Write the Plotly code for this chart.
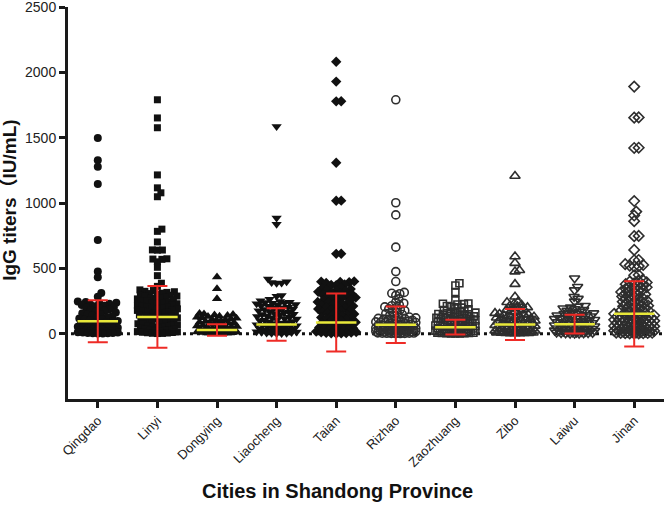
import math
import plotly.graph_objects as go

cities = ["Qingdao", "Linyi", "Dongying", "Liaocheng", "Taian",
          "Rizhao", "Zaozhuang", "Zibo", "Laiwu", "Jinan"]

qingdao = [1497, 1328, 1278, 1146, 717, 475, 432, 311, 283,
           246, 242, 237, 233, 228, 224, 219, 214, 209, 203, 198, 192, 186, 181, 175,
           168, 162, 157, 151, 144, 139, 133, 127, 122, 116, 111, 106, 101, 97, 93, 89,
           85, 81, 78, 74, 71, 67, 64, 61, 58, 55, 52, 49, 46, 43, 41, 38, 35, 33, 30,
           28, 25, 23, 21, 19, 17, 15, 13, 11, 9, 8, 6, 5, 4, 3, 2, 1]
linyi = [1790, 1651, 1576, 1215, 1116, 1078, 1048, 800, 783, 702, 641, 640, 639,
         573, 571, 569, 550, 508, 444, 386, 362,
         335, 330, 324, 321, 316, 310, 307, 303, 296, 294, 288, 285, 279, 273, 271,
         266, 260, 258, 251, 249, 244, 238, 235, 229, 226, 222, 216, 213, 207, 205,
         199, 194, 190, 187, 180, 178, 172, 167, 165, 158, 156, 150, 146, 143, 137,
         134, 128, 124, 121, 115, 112, 106, 103, 97, 95, 89, 85, 82, 76, 74, 68, 64,
         61, 57, 52, 50, 45, 42, 38, 35, 31, 29, 25, 22, 19, 16, 14, 11, 9, 7, 5, 3, 2, 1]
dongying = [434, 343, 268, 155, 151, 147, 142, 139, 134, 131, 126, 121, 118, 113,
            108, 105, 101, 96, 93, 88, 84, 80, 77, 72, 69, 65, 62, 58, 55, 51, 48, 45,
            42, 38, 35, 33, 29, 27, 24, 21, 19, 16, 14, 12, 10, 8, 7, 5, 4, 3, 2, 1]
liaocheng = [1586, 886, 838, 419, 397, 388, 385, 391, 292, 286, 263, 236,
             251, 247, 241, 238, 232, 228, 223, 217, 214, 209, 203, 199, 194, 189,
             184, 178, 175, 170, 164, 160, 155, 149, 146, 141, 135, 131, 126, 121, 117,
             112, 107, 103, 98, 94, 90, 85, 81, 77, 73, 69, 65, 61, 58, 54, 50, 47, 43,
             40, 37, 33, 30, 27, 25, 22, 19, 17, 14, 12, 10, 8, 6, 4, 3, 2, 1]
taian = [2081, 1929, 1778, 1779, 1308, 1018, 1017, 611, 612, 400, 398, 396, 393,
         388, 376, 373, 371,
         352, 347, 341, 336, 331, 325, 320, 314, 309, 303, 298, 292, 287, 281, 276,
         271, 265, 260, 254, 249, 243, 238, 232, 227, 222, 216, 211, 205, 200, 195,
         189, 184, 178, 173, 168, 162, 157, 151, 146, 141, 135, 130, 124, 119, 114,
         108, 103, 97, 92, 87, 81, 76, 71, 66, 61, 56, 51, 47, 42, 38, 34, 30, 26, 22,
         19, 16, 13, 10, 8, 6, 4, 3, 2, 1]
rizhao = [1790, 1002, 909, 662, 475, 399, 316, 309, 306, 293, 266, 241, 233,
          221, 214, 205, 198, 190, 184, 176, 169, 161, 154, 147, 140, 133, 127, 121,
          115, 109, 104, 99, 94, 89, 85, 80, 76, 72, 68, 64, 60, 57, 53, 50, 47, 44,
          41, 38, 35, 33, 30, 27, 25, 22, 20, 18, 16, 14, 12, 10, 8, 7, 5, 4, 3, 2, 1,
          124, 117, 111, 103, 96, 90, 83, 78, 73, 66, 62, 55, 51, 46, 42, 37, 32, 29,
          26, 23, 19, 15, 12, 9, 6, 4, 2, 1]
zaozhuang = [386, 369, 318, 255, 229, 226, 223, 231,
             212, 206, 199, 193, 186, 180, 173, 167, 161, 154, 148, 142, 136, 131,
             125, 119, 114, 108, 103, 98, 93, 88, 84, 79, 75, 71, 67, 63, 59, 56, 52,
             49, 45, 42, 39, 36, 33, 30, 27, 25, 22, 20, 17, 15, 13, 11, 9, 7, 6, 4, 3, 2, 1,
             168, 159, 151, 140, 132, 121, 112, 101, 94, 86, 77, 69, 61, 54, 47, 41, 35,
             28, 23, 18, 13, 8, 5, 2]
zibo = [1207, 591, 540, 485, 475, 379, 283, 243, 240,
        228, 221, 215, 208, 201, 195, 188, 182, 175, 169, 163, 157, 151, 145, 139,
        133, 128, 122, 117, 111, 106, 101, 96, 91, 87, 82, 78, 73, 69, 65, 61, 57, 54,
        50, 47, 43, 40, 37, 34, 31, 28, 25, 22, 20, 17, 15, 13, 11, 9, 7, 5, 4, 3, 2, 1,
        146, 137, 129, 118, 109, 99, 92, 84, 75, 68, 60, 53, 46, 40, 34, 27, 22, 17,
        12, 8, 4, 2]
laiwu = [424, 359, 333, 283, 268, 247,
         214, 208, 201, 195, 188, 182, 176, 169, 163, 157, 151, 145, 139, 134, 128,
         122, 117, 112, 106, 101, 96, 92, 87, 82, 78, 74, 70, 66, 62, 58, 54, 51, 47,
         44, 41, 38, 35, 32, 29, 27, 24, 22, 19, 17, 15, 13, 11, 9, 7, 6, 4, 3, 2, 1,
         152, 141, 133, 124, 113, 104, 97, 88, 80, 71, 64, 57, 49, 43, 36, 30, 25,
         19, 14, 9, 5, 2]
jinan = [1891, 1655, 1653, 1423, 1421, 1015, 934, 904, 861, 748, 746, 641, 564, 562,
         532, 526, 521, 517, 514, 449, 447,
         412, 405, 398, 392, 386, 379, 373, 367, 361, 355, 349, 343, 337, 331, 325,
         319, 313, 307, 301, 296, 290, 284, 278, 273, 267, 262, 256, 251, 245, 240,
         235, 229, 224, 219, 214, 209, 204, 199, 194, 189, 184, 179, 175, 170, 165,
         161, 156, 152, 147, 143, 139, 134, 130, 126, 122, 118, 114, 110, 106, 102,
         98, 94, 91, 87, 83, 80, 76, 73, 69, 66, 63, 60, 56, 53, 50, 47, 44, 41, 38,
         36, 33, 30, 28, 25, 23, 20, 18, 16, 14, 12, 10, 8, 6, 5, 3, 2, 1,
         136, 128, 121, 113, 104, 97, 89, 81, 74, 67, 59, 52, 46, 39, 33, 27, 21,
         16, 11, 7, 4, 2]

means = [95, 128, 29, 70, 86, 68, 50, 70, 73, 152]
sds = [160, 236, 44, 125, 222, 139, 56, 118, 71, 250]

ytick_vals = [0, 500, 1000, 1500, 2000, 2500]

series = [qingdao, linyi, dongying, liaocheng, taian,
          rizhao, zaozhuang, zibo, laiwu, jinan]
symbols = ["circle", "square", "triangle-up", "triangle-down", "diamond",
           "circle-open", "square-open", "triangle-up-open", "triangle-down-open",
           "diamond-open"]
sizes = [8, 7, 9, 9, 8, 8, 7, 9, 9, 8]

# figure geometry (for beeswarm layout in pixels)
W, H = 666, 505
ML, MR, MT, MB = 68, 2, 7, 106
YMIN, YMAX = -500, 2500
PX_Y = (H - MT - MB) / (YMAX - YMIN)
PX_X = (W - ML - MR) / 10.0


def swarm(vals, dist=5.0, halfw=20.0):
    order = sorted(range(len(vals)), key=lambda i: vals[i])
    cands = [0.0]
    k = 1
    while k * 0.5 <= halfw:
        cands += [k * 0.5, -k * 0.5]
        k += 1
    placed = []
    offs = [0.0] * len(vals)
    for i in order:
        y = vals[i] * PX_Y
        near = [(px, py) for px, py in placed if abs(py - y) < dist]
        best, bestd = 0.0, -1.0
        for c in cands:
            d = min((math.hypot(c - px, y - py) for px, py in near), default=1e9)
            if d >= dist:
                best = c
                break
            if d > bestd:
                bestd, best = d, c
        placed.append((best, y))
        offs[i] = best / PX_X
    return offs


fig = go.Figure()
for idx, (vals, sym, sz) in enumerate(zip(series, symbols, sizes)):
    is_open = sym.endswith("open")
    offs = swarm(vals, dist=4.3 if is_open else 5.0)
    fig.add_trace(go.Scatter(
        x=[idx + o for o in offs], y=vals, mode="markers",
        marker=dict(symbol=sym, size=sz,
                    color="#2e2e2e" if is_open else "#111111",
                    line=dict(width=1.6 if is_open else 0,
                              color="#2e2e2e" if is_open else "#111111")),
        showlegend=False, hoverinfo="skip"))

# mean lines
mx, my = [], []
for idx, m in enumerate(means):
    mx += [idx - 0.34, idx + 0.34, None]
    my += [m, m, None]
fig.add_trace(go.Scatter(x=mx, y=my, mode="lines",
                         line=dict(color="#e8e83a", width=2.5),
                         showlegend=False, hoverinfo="skip"))

# SD error bars
fig.add_trace(go.Scatter(
    x=list(range(len(cities))), y=means, mode="markers",
    marker=dict(size=1, color="rgba(0,0,0,0)"),
    error_y=dict(type="data", array=sds, symmetric=True,
                 color="#ee2b26", thickness=2, width=10),
    showlegend=False, hoverinfo="skip"))

fig.add_shape(type="line", xref="x", yref="y", x0=-0.45, x1=9.5, y0=0, y1=0,
              line=dict(color="#111111", width=3, dash="3px,4px"), layer="below")

font_main = "Liberation Sans, Arial, Noto Sans CJK SC, sans-serif"
fig.update_layout(
    width=W, height=H,
    margin=dict(l=ML, r=MR, t=MT, b=MB, autoexpand=False),
    paper_bgcolor="white", plot_bgcolor="white",
    font=dict(family=font_main, color="#222222"),
    xaxis=dict(range=[-0.5, 9.5], tickvals=list(range(len(cities))),
               ticktext=cities, tickangle=-45, tickfont=dict(size=13),
               showline=True, linecolor="#1a1a1a", linewidth=3,
               ticks="outside", ticklen=6, tickwidth=3, tickcolor="#1a1a1a",
               showgrid=False, zeroline=False, automargin=False,
               ticklabeloverflow="allow"),
    yaxis=dict(range=[YMIN, YMAX], tickvals=ytick_vals,
               ticktext=[str(v) for v in ytick_vals], tickfont=dict(size=14),
               showline=True, linecolor="#1a1a1a", linewidth=3,
               ticks="outside", ticklen=6, tickwidth=3, tickcolor="#1a1a1a",
               showgrid=False, zeroline=False, automargin=False,
               ticklabeloverflow="allow"),
    annotations=[
        dict(text="<b>IgG titers（IU/mL)</b>", xref="paper", yref="paper",
             x=(10 - ML) / (W - ML - MR), y=0.508, xanchor="center",
             yanchor="middle", textangle=-90, showarrow=False,
             font=dict(size=19, color="#111111", family=font_main)),
        dict(text="<b>Cities in Shandong Province</b>", xref="paper",
             yref="paper", x=(337.5 - ML) / (W - ML - MR),
             y=(H - MB - 491) / (H - MT - MB), xanchor="center",
             yanchor="middle", showarrow=False,
             font=dict(size=20, color="#111111", family=font_main)),
    ],
)

fig.write_html("out.html", config={"displayModeBar": False},
               post_script="document.body.style.margin='0';"
                           "document.body.style.overflow='hidden';")
